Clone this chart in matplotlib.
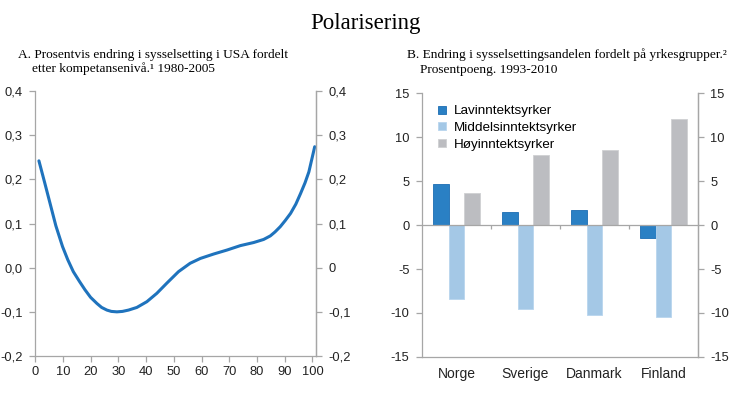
import matplotlib
matplotlib.use("Agg")
import matplotlib.pyplot as plt
from matplotlib.ticker import FuncFormatter
import numpy as np

# ---- Panel A data ----
skill_pct = [1.4, 3.5, 5.4, 7.5, 9.9, 11.8, 13.8, 16.0, 18.0, 20.0, 22.3, 24.0, 25.9,
             27.5, 29.5, 31.5, 33.7, 36.7, 40.3, 43.9, 47.5, 51.7, 55.9, 59.6, 64.4,
             69.2, 74.0, 78.8, 82.4, 84.8, 86.5, 88.4, 90.2, 92.1, 94.0, 95.7, 97.3,
             98.7, 100.8]
emp_change = [0.242, 0.192, 0.146, 0.095, 0.048, 0.018, -0.009, -0.031, -0.050,
              -0.067, -0.081, -0.090, -0.096, -0.099, -0.100, -0.099, -0.096, -0.090,
              -0.077, -0.058, -0.035, -0.009, 0.010, 0.021, 0.031, 0.040, 0.050,
              0.057, 0.064, 0.072, 0.081, 0.093, 0.107, 0.123, 0.144, 0.168, 0.192,
              0.217, 0.274]
a_xticks = [0, 10, 20, 30, 40, 50, 60, 70, 80, 90, 100]
a_yticks = [-0.2, -0.1, 0.0, 0.1, 0.2, 0.3, 0.4]

# ---- Panel B data ----
countries = ["Norge", "Sverige", "Danmark", "Finland"]
series_names = ["Lavinntektsyrker", "Middelsinntektsyrker", "Høyinntektsyrker"]
lav = [4.7, 1.5, 1.7, -1.45]
middel = [-8.45, -9.5, -10.25, -10.5]
hoy = [3.7, 8.0, 8.6, 12.1]
b_yticks = [-15, -10, -5, 0, 5, 10, 15]

sans = ["Liberation Sans", "DejaVu Sans"]
serif = ["Liberation Serif", "DejaVu Serif"]
plt.rcParams["font.family"] = sans

axis_grey = "#a6a6a6"
fs_tick = 9.3

fig = plt.figure(figsize=(7.3, 3.96), dpi=100)
fig.text(0.5, 0.94, "Polarisering", family=serif, fontsize=16.5, ha="center", va="center")


def style_axes(ax):
    ax.spines["top"].set_visible(False)
    for s in ["left", "right", "bottom"]:
        ax.spines[s].set_color(axis_grey)
        ax.spines[s].set_linewidth(0.9)
    ax.tick_params(colors=axis_grey, labelcolor="#222222", labelsize=fs_tick,
                   length=4, width=0.9, direction="out")


# ---------- Panel A ----------
axA = fig.add_axes([0.048, 0.101, 0.385, 0.669])
axA.plot(skill_pct, emp_change, color="#1f73bd", lw=2.2, solid_capstyle="round",
         solid_joinstyle="round")
axA.set_xlim(0, 101.3)
axA.set_ylim(-0.2, 0.4)
axA.set_xticks(a_xticks)
axA.set_yticks(a_yticks)
axA.yaxis.set_major_formatter(FuncFormatter(
    lambda v, p: f"{v:.1f}".replace(".", ",").replace("-0,0", "0,0")))
style_axes(axA)
axA.tick_params(axis="y", pad=5)
axA2 = axA.twinx()
axA2.set_ylim(-0.2, 0.4)
axA2.set_yticks(a_yticks)
axA2.yaxis.set_major_formatter(FuncFormatter(
    lambda v, p: "0" if abs(v) < 1e-9 else f"{v:.1f}".replace(".", ",")))
style_axes(axA2)
axA2.spines["bottom"].set_visible(False)
axA2.spines["left"].set_visible(False)
axA2.tick_params(axis="y", pad=5)

fig.text(0.025, 0.862, "A. Prosentvis endring i sysselsetting i USA fordelt",
         family=serif, fontsize=9.6, ha="left", va="center")
fig.text(0.044, 0.826, "etter kompetansenivå.¹ 1980-2005",
         family=serif, fontsize=9.6, ha="left", va="center")

# ---------- Panel B ----------
axB = fig.add_axes([0.578, 0.099, 0.378, 0.665])
x = np.arange(len(countries))
w = 0.225
axB.bar(x - w, lav, w, color="#2a80c4", edgecolor="#1c6db3", lw=0.6, label=series_names[0])
axB.bar(x, middel, w, color="#a4c8e6", edgecolor="#b8d5ee", lw=0.6, label=series_names[1])
axB.bar(x + w, hoy, w, color="#bcbdc1", edgecolor="#cfd0d3", lw=0.6, label=series_names[2])
axB.set_xlim(-0.5, len(countries) - 0.5)
axB.set_ylim(-15, 15)
axB.set_yticks(b_yticks)
axB.yaxis.set_major_formatter(FuncFormatter(lambda v, p: f"{v:.0f}"))
style_axes(axB)
axB.tick_params(axis="y", pad=5)
# zero axis line with category separators
axB.spines["bottom"].set_position(("data", 0))
axB.set_xticks(x[:-1] + 0.5)
axB.set_xticklabels([])
axB.tick_params(axis="x", length=3)
sec = axB.secondary_xaxis(0.0)
sec.set_xticks(x)
sec.set_xticklabels(countries, fontsize=10, color="#222222")
sec.tick_params(length=0, pad=7)
sec.spines["bottom"].set_color(axis_grey)
sec.spines["bottom"].set_linewidth(0.9)

axB2 = axB.twinx()
axB2.set_ylim(-15, 15)
axB2.set_yticks(b_yticks)
axB2.yaxis.set_major_formatter(FuncFormatter(lambda v, p: f"{v:.0f}"))
style_axes(axB2)
axB2.spines["bottom"].set_visible(False)
axB2.spines["left"].set_visible(False)
axB2.tick_params(axis="y", pad=5)

leg = axB.legend(loc="upper left", bbox_to_anchor=(0.03, 0.985), frameon=False,
                 fontsize=9.7, handlelength=0.55, handleheight=0.55, handletextpad=0.6,
                 labelspacing=0.35, borderaxespad=0.2)

fig.text(0.557, 0.862, "B. Endring i sysselsettingsandelen fordelt på yrkesgrupper.²",
         family=serif, fontsize=9.6, ha="left", va="center")
fig.text(0.576, 0.822, "Prosentpoeng. 1993-2010",
         family=serif, fontsize=9.6, ha="left", va="center")

fig.savefig("out.png", dpi=100)
